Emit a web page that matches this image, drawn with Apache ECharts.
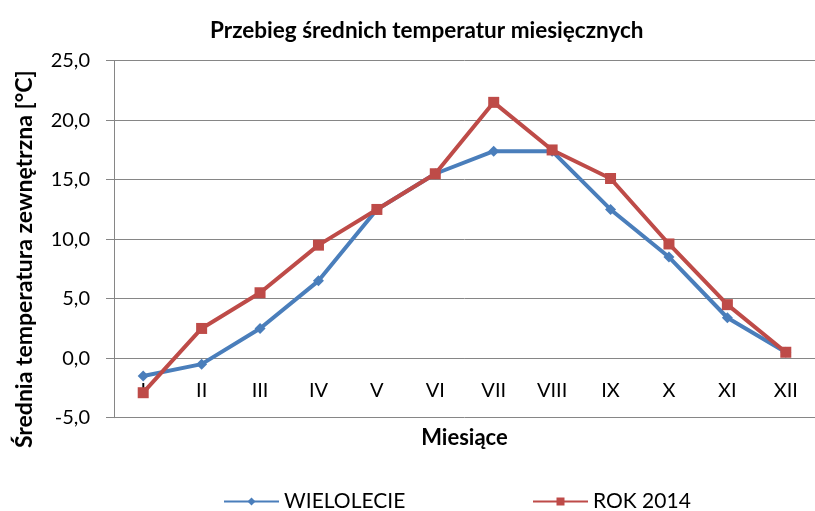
<!DOCTYPE html>
<html><head><meta charset="utf-8">
<script src="https://cdn.jsdelivr.net/npm/echarts@6/dist/echarts.min.js"></script>
<style>html,body{margin:0;padding:0;background:#fff}#c{width:815px;height:511px}</style>
</head><body><div id="c"></div>
<script>
var months = ['I','II','III','IV','V','VI','VII','VIII','IX','X','XI','XII'];
var wielolecie = [-1.5, -0.5, 2.5, 6.5, 12.5, 15.5, 17.4, 17.4, 12.5, 8.5, 3.4, 0.5];
var rok2014 = [-2.9, 2.5, 5.5, 9.5, 12.5, 15.5, 21.5, 17.5, 15.1, 9.6, 4.5, 0.5];
var yTicks = {min: -5, max: 25, step: 5};
var seriesNames = ['WIELOLECIE', 'ROK 2014'];

var FONT = 'Lato';
var grey = '#868686';
var chart = echarts.init(document.getElementById('c'));
chart.setOption({
  backgroundColor: '#fff',
  animation: false,
  title: {
    text: 'Przebieg średnich temperatur miesięcznych',
    left: 205, top: 14,
    textStyle: {fontFamily: FONT, fontWeight: 'bold', fontSize: 22.5, color: '#000'}
  },
  legend: [
    {data: [seriesNames[0]], left: 223, top: 491, padding: 0, itemWidth: 55, itemHeight: 10, itemGap: 6,
     textStyle: {fontFamily: FONT, fontSize: 21, color: '#000'}},
    {data: [seriesNames[1]], left: 532, top: 491, padding: 0, itemWidth: 55, itemHeight: 10, itemGap: 6,
     textStyle: {fontFamily: FONT, fontSize: 21, color: '#000'}}
  ],
  grid: {left: 114, top: 60.7, height: 357, width: 710, containLabel: false},
  xAxis: {
    type: 'category', data: months, boundaryGap: true, offset: -59.5,
    name: 'Miesiące', nameLocation: 'middle', nameGap: 69,
    nameTextStyle: {fontFamily: FONT, fontWeight: 'bold', fontSize: 22, color: '#000'},
    axisLine: {show: true, onZero: false, lineStyle: {color: grey, width: 1}},
    axisTick: {show: false},
    axisLabel: {fontFamily: FONT, fontSize: 20, color: '#000', margin: 22}
  },
  yAxis: {
    type: 'value', min: yTicks.min, max: yTicks.max, interval: yTicks.step,
    name: 'Średnia temperatura zewnętrzna [°C]', nameLocation: 'middle', nameGap: 78,
    nameTextStyle: {fontFamily: FONT, fontWeight: 'bold', fontSize: 23, color: '#000', padding: [0, 40, 0, 0]},
    axisLine: {show: true, lineStyle: {color: grey, width: 1}},
    axisTick: {show: true, length: 8, lineStyle: {color: grey}},
    splitLine: {show: true, lineStyle: {color: grey, width: 1}},
    axisLabel: {fontFamily: FONT, fontSize: 20, color: '#000', margin: 24,
      formatter: function(v){ return v.toFixed(1).replace('.', ','); }}
  },
  series: [
    {name: seriesNames[0], type: 'line', data: wielolecie, symbol: 'diamond', symbolSize: 11,
     lineStyle: {color: '#4A7EBB', width: 4}, itemStyle: {color: '#4A7EBB'}, z: 2},
    {name: seriesNames[1], type: 'line', data: rok2014, symbol: 'rect', symbolSize: 11,
     lineStyle: {color: '#BE4B48', width: 4}, itemStyle: {color: '#BE4B48'}, z: 3}
  ]
});
</script></body></html>
